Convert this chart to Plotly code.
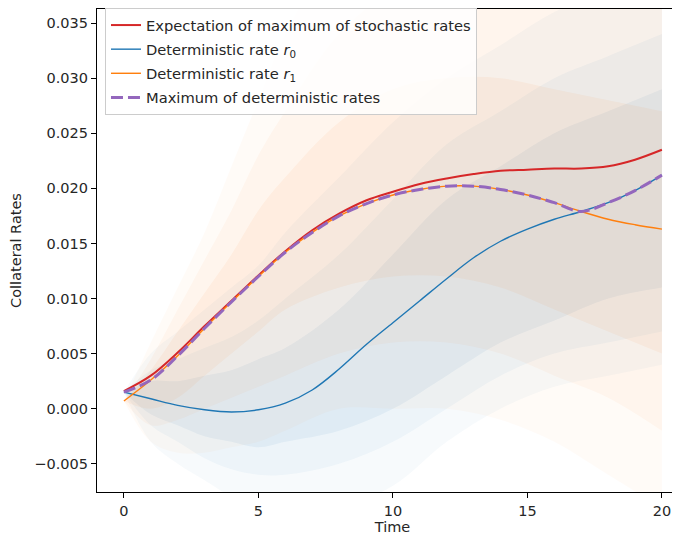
import plotly.graph_objects as go

# ---- data ----
T = list(range(0, 21))
r0 = [0.0015, 0.0009, 0.0003, -0.0001, -0.0003, -0.0001, 0.0005, 0.0017, 0.0036, 0.0058,
      0.0078, 0.0098, 0.0118, 0.0137, 0.0152, 0.0163, 0.0172, 0.0179, 0.0187, 0.0198, 0.0212]
r1 = [0.0007, 0.0026, 0.0048, 0.0073, 0.0097, 0.0120, 0.0142, 0.0160, 0.0175, 0.0186,
      0.0194, 0.0199, 0.0202, 0.0202, 0.0199, 0.0194, 0.0187, 0.0179, 0.0172, 0.0167, 0.0163]
exp_max = [0.0016, 0.0030, 0.0051, 0.0075, 0.0098, 0.0121, 0.0143, 0.0162, 0.0177, 0.0189,
           0.0197, 0.0204, 0.0209, 0.0213, 0.0216, 0.0217, 0.0218, 0.0218, 0.0220, 0.0226, 0.0235]
det_max = [max(a, b) for a, b in zip(r0, r1)]

# envelopes of the simulated path clouds (estimated)
T_BAND = [0, 1, 2, 3, 4, 5, 6, 8, 10, 12, 14, 16, 18, 20]
blue_outer_lo = [0.0015, -0.003, -0.005, -0.0065, -0.008, -0.009, -0.0095, -0.009, -0.007, -0.003, 0.000, 0.002, 0.003, 0.004]
blue_outer_hi = [0.0015, 0.005, 0.007, 0.009, 0.011, 0.013, 0.016, 0.021, 0.026, 0.030, 0.033, 0.036, 0.038, 0.040]
blue_mid_lo = [0.0015, -0.0015, -0.003, -0.0045, -0.0055, -0.006, -0.006, -0.005, -0.003, 0.000, 0.003, 0.005, 0.006, 0.007]
blue_mid_hi = [0.0015, 0.0035, 0.0045, 0.0055, 0.0065, 0.008, 0.010, 0.014, 0.019, 0.024, 0.027, 0.030, 0.032, 0.034]
blue_in_lo = [0.0015, -0.0005, -0.0015, -0.0025, -0.003, -0.0035, -0.003, -0.002, 0.000, 0.003, 0.006, 0.008, 0.010, 0.011]
blue_in_hi = [0.0015, 0.0025, 0.0025, 0.003, 0.0035, 0.0045, 0.0055, 0.009, 0.014, 0.019, 0.022, 0.025, 0.027, 0.029]

orange_outer_lo = [0.0007, -0.003, -0.004, -0.004, -0.0035, -0.003, -0.002, 0.000, 0.000, 0.000, -0.001, -0.003, -0.006, -0.009]
orange_outer_hi = [0.0007, 0.006, 0.011, 0.016, 0.022, 0.028, 0.034, 0.042, 0.046, 0.046, 0.046, 0.046, 0.046, 0.046]
orange_mid_lo = [0.0007, -0.0015, -0.001, 0.000, 0.001, 0.002, 0.003, 0.005, 0.006, 0.006, 0.005, 0.003, 0.001, -0.002]
orange_mid_hi = [0.0007, 0.0045, 0.009, 0.0135, 0.018, 0.023, 0.027, 0.034, 0.038, 0.040, 0.040, 0.040, 0.040, 0.040]
orange_in_lo = [0.0007, 0.000, 0.001, 0.003, 0.005, 0.007, 0.009, 0.011, 0.012, 0.012, 0.011, 0.009, 0.007, 0.005]
orange_in_hi = [0.0007, 0.0035, 0.007, 0.0105, 0.014, 0.018, 0.021, 0.026, 0.029, 0.030, 0.030, 0.029, 0.028, 0.027]

Y_TICKS = [-0.005, 0.0, 0.005, 0.010, 0.015, 0.020, 0.025, 0.030, 0.035]
X_TICKS = [0, 5, 10, 15, 20]

BLUE = "#1f77b4"
ORANGE = "#ff7f0e"
RED = "#d62728"
PURPLE = "#9467bd"

fig = go.Figure()


def band(lo, hi, rgb, alpha):
    fig.add_trace(go.Scatter(x=T_BAND, y=lo, mode="lines", line=dict(width=0, shape="spline"),
                             hoverinfo="skip", showlegend=False))
    fig.add_trace(go.Scatter(x=T_BAND, y=hi, mode="lines", line=dict(width=0, shape="spline"),
                             fill="tonexty", fillcolor=f"rgba({rgb},{alpha})",
                             hoverinfo="skip", showlegend=False))


for lo, hi, a in [(blue_outer_lo, blue_outer_hi, 0.035), (blue_mid_lo, blue_mid_hi, 0.045),
                  (blue_in_lo, blue_in_hi, 0.065)]:
    band(lo, hi, "31,119,180", a)
for lo, hi, a in [(orange_outer_lo, orange_outer_hi, 0.03), (orange_mid_lo, orange_mid_hi, 0.045),
                  (orange_in_lo, orange_in_hi, 0.06)]:
    band(lo, hi, "255,127,14", a)

fig.add_trace(go.Scatter(x=T, y=exp_max, mode="lines", line=dict(color=RED, width=2, shape="spline"),
                         name="Expectation of maximum of stochastic rates", legendgroup="a"))
fig.add_trace(go.Scatter(x=T, y=r0, mode="lines", line=dict(color=BLUE, width=1.4, shape="spline"),
                         name="Deterministic rate <i>r</i><sub>0</sub>", legendgroup="b"))
fig.add_trace(go.Scatter(x=T, y=r1, mode="lines", line=dict(color=ORANGE, width=1.4, shape="spline"),
                         name="Deterministic rate <i>r</i><sub>1</sub>", legendgroup="c"))
fig.add_trace(go.Scatter(x=T, y=det_max, mode="lines",
                         line=dict(color=PURPLE, width=3, dash="12px,5px", shape="spline"),
                         name="Maximum of deterministic rates", legendgroup="d"))

FONT = "DejaVu Sans"
FS = 14.5
fig.update_layout(
    width=680, height=541,
    margin=dict(l=89, r=0, t=0, b=57),
    paper_bgcolor="white", plot_bgcolor="white",
    font=dict(family=FONT, size=FS, color="#262626"),
    legend=dict(x=0.0135, y=1.003, xanchor="left", yanchor="top",
                bgcolor="rgba(255,255,255,0.8)", bordercolor="#cccccc", borderwidth=1,
                font=dict(family=FONT, size=14.7, color="#262626"),
                tracegroupgap=2, itemwidth=30),
    showlegend=True,
)
fig.update_xaxes(range=[-1, 20.97], tickvals=X_TICKS, ticks="outside", ticklen=5,
                 tickcolor="black", showline=True, linecolor="black", linewidth=1.2,
                 mirror=True, showgrid=False, zeroline=False, automargin=False,
                 title=dict(text="Time", font=dict(size=FS), standoff=4),
                 tickfont=dict(size=FS))
fig.update_yaxes(range=[-0.00756, 0.03628], tickvals=Y_TICKS, tickformat=".3f", ticks="outside",
                 ticklen=5, tickcolor="black", showline=True, linecolor="black", linewidth=1.2,
                 showgrid=False, zeroline=False, automargin=False,
                 title=dict(text="Collateral Rates", font=dict(size=FS), standoff=10),
                 tickfont=dict(size=FS))

fig.write_html("out.html")
